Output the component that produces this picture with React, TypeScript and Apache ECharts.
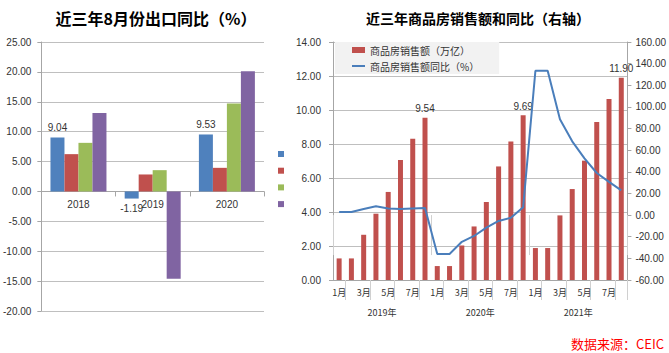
import React, { useEffect, useRef } from 'react';
import * as echarts from 'echarts';

// ---- Left chart: 近三年8月份出口同比（%）
const exportYears = ['2018', '2019', '2020'];
const exportSeriesNames = ['系列1', '系列2', '系列3', '系列4'];
const exportS1 = [9.04, -1.19, 9.53];
const exportS2 = [6.24, 2.84, 3.95];
const exportS3 = [8.13, 3.56, 14.7];
const exportS4 = [13.14, -14.6, 20.1];
const exportTicks = { min: -20, max: 25, interval: 5 };

// ---- Right chart: 近三年商品房销售额和同比（右轴）
const months = ['1月', '2月', '3月', '4月', '5月', '6月', '7月', '8月'];
const salesYears = ['2019年', '2020年', '2021年'];
const sales2019 = [1.27, 1.27, 2.66, 3.9, 5.18, 7.06, 8.31, 9.54];
const sales2020 = [0.82, 0.82, 2.03, 3.15, 4.59, 6.68, 8.15, 9.69];
const sales2021 = [1.88, 1.88, 3.8, 5.35, 7.02, 9.29, 10.65, 11.9];
const yoy2019 = [2.8, 2.8, 5.6, 8.1, 6.1, 5.6, 6.2, 6.5];
const yoy2020 = [-35.9, -35.9, -24.7, -19.3, -11.6, -5.4, -2.5, 7.2];
const yoy2021 = [133.4, 133.4, 88.5, 68.2, 52.4, 38.9, 30.7, 22.8];
const salesNames = ['商品房销售额（万亿）', '商品房销售额同比（%）'];

const FONT = '"Liberation Sans", "Noto Sans CJK SC", sans-serif';
const CJK = '"Noto Sans CJK SC", sans-serif';
const GRID_C = '#bfbfbf';
const AXIS_C = '#a6a6a6';
const TEXT_C = '#333333';

const LEFT_GRID_H = 269;

export default function App() {
  const ref = useRef<HTMLDivElement>(null);
  useEffect(() => {
    if (!ref.current) return;
    const chart = echarts.init(ref.current, undefined, { renderer: 'svg' });
    const monthCats = salesYears.flatMap(() => months);
    const salesAll = [...sales2019, ...sales2020, ...sales2021];
    const yoyAll = [...yoy2019, ...yoy2020, ...yoy2021];
    const fmt2 = (v: number) => Number(v).toFixed(2);
    const exportColors = ['#4f81bd', '#c0504d', '#9bbb59', '#8064a2'];
    const exportData = [exportS1, exportS2, exportS3, exportS4];
    // move the category axis up to the zero line of the value axis
    const zeroOffset =
      -LEFT_GRID_H * (0 - exportTicks.min) / (exportTicks.max - exportTicks.min);

    const option: any = {
      animation: false,
      textStyle: { fontFamily: FONT },
      grid: [
        { left: 38, top: 42, width: 226, height: LEFT_GRID_H },
        { left: 333, top: 42, width: 297, height: 238 },
      ],
      xAxis: [
        {
          gridIndex: 0,
          type: 'category',
          data: exportYears,
          position: 'bottom',
          offset: zeroOffset,
          axisLine: { onZero: false, lineStyle: { color: AXIS_C } },
          axisTick: { show: true, length: 5, lineStyle: { color: AXIS_C } },
          axisLabel: { color: TEXT_C, fontSize: 10, margin: 8 },
          splitLine: { show: false },
        },
        {
          gridIndex: 1,
          type: 'category',
          data: monthCats,
          position: 'bottom',
          axisLine: { lineStyle: { color: AXIS_C } },
          axisTick: {
            show: true,
            length: 20,
            interval: (i: number) => i % 2 === 1,
            lineStyle: { color: '#d0d0d0' },
          },
          axisLabel: { color: TEXT_C, fontSize: 9, margin: 8, interval: 1, fontFamily: CJK },
          splitLine: { show: false },
        },
        {
          gridIndex: 1,
          type: 'category',
          data: salesYears,
          position: 'bottom',
          axisLine: { show: false },
          axisTick: { show: true, length: 40, lineStyle: { color: '#d0d0d0' } },
          axisLabel: { color: TEXT_C, fontSize: 9, margin: 28, fontFamily: CJK },
          splitLine: { show: false },
        },
      ],
      yAxis: [
        {
          gridIndex: 0,
          type: 'value',
          min: exportTicks.min,
          max: exportTicks.max,
          interval: exportTicks.interval,
          axisLine: { show: true, lineStyle: { color: AXIS_C } },
          axisTick: { show: true, length: 4, lineStyle: { color: AXIS_C } },
          axisLabel: { color: TEXT_C, fontSize: 10, margin: 10, formatter: fmt2 },
          splitLine: { lineStyle: { color: GRID_C } },
        },
        {
          gridIndex: 1,
          type: 'value',
          position: 'left',
          min: 0,
          max: 14,
          interval: 2,
          axisLine: { show: true, lineStyle: { color: AXIS_C } },
          axisTick: { show: true, length: 4, lineStyle: { color: AXIS_C } },
          axisLabel: { color: TEXT_C, fontSize: 10, margin: 12, formatter: fmt2 },
          splitLine: { lineStyle: { color: GRID_C } },
        },
        {
          gridIndex: 1,
          type: 'value',
          position: 'right',
          min: -60,
          max: 160,
          interval: 20,
          axisLine: { show: true, lineStyle: { color: AXIS_C } },
          axisTick: { show: true, length: 4, lineStyle: { color: AXIS_C } },
          axisLabel: { color: TEXT_C, fontSize: 10, margin: 8, formatter: fmt2 },
          splitLine: { show: false },
        },
      ],
      legend: [
        {
          data: exportSeriesNames,
          orient: 'vertical',
          left: 273,
          top: 146,
          itemWidth: 6,
          itemHeight: 6,
          itemGap: 10.7,
          icon: 'rect',
          formatter: () => '',
          textStyle: { fontSize: 6, lineHeight: 6 },
        },
        {
          data: [
            { name: salesNames[0], icon: 'rect' },
            { name: salesNames[1], icon: 'path://M0,0L13,0L13,2L0,2Z' },
          ],
          orient: 'vertical',
          left: 335,
          top: 42,
          backgroundColor: '#f2f2f2',
          padding: [3, 20, 3, 17],
          itemWidth: 13,
          itemHeight: 6,
          itemGap: 6,
          textStyle: { fontSize: 10, color: TEXT_C, fontFamily: CJK },
        },
      ],
      series: [
        ...exportData.map((d, k) => ({
          name: exportSeriesNames[k],
          type: 'bar',
          xAxisIndex: 0,
          yAxisIndex: 0,
          barWidth: 14,
          barGap: '0%',
          itemStyle: { color: exportColors[k] },
          data: d.map((v) => ({
            value: v,
            label: {
              show: k === 0,
              position: v < 0 ? 'bottom' : 'top',
              distance: 5,
              formatter: (p: any) => fmt2(p.value),
              color: TEXT_C,
              fontSize: 10,
            },
          })),
        })),
        {
          name: salesNames[0],
          type: 'bar',
          xAxisIndex: 1,
          yAxisIndex: 1,
          barWidth: 5,
          itemStyle: { color: '#c0504d' },
          label: {
            show: true,
            position: 'top',
            distance: 4,
            color: TEXT_C,
            fontSize: 10,
            formatter: (p: any) => (p.dataIndex % 8 === 7 ? fmt2(p.value) : ''),
          },
          data: salesAll,
        },
        {
          name: salesNames[1],
          type: 'line',
          xAxisIndex: 1,
          yAxisIndex: 2,
          symbol: 'none',
          lineStyle: { color: '#4a7ebb', width: 2 },
          itemStyle: { color: '#4a7ebb' },
          data: yoyAll,
        },
      ],
      graphic: [
        {
          type: 'text',
          x: 156,
          y: 18,
          style: {
            text: '近三年8月份出口同比（%）',
            fontSize: 16,
            fontWeight: 'bold',
            fontFamily: CJK,
            fill: '#000',
            align: 'center',
            verticalAlign: 'middle',
          },
        },
        {
          type: 'text',
          x: 478,
          y: 18,
          style: {
            text: '近三年商品房销售额和同比（右轴）',
            fontSize: 14,
            fontWeight: 'bold',
            fontFamily: CJK,
            fill: '#000',
            align: 'center',
            verticalAlign: 'middle',
          },
        },
        {
          type: 'text',
          x: 664,
          y: 343,
          style: {
            text: '数据来源：CEIC',
            fontSize: 13,
            fontFamily: CJK,
            fill: '#ff0000',
            align: 'right',
            verticalAlign: 'middle',
          },
        },
      ],
    };
    chart.setOption(option);
    return () => chart.dispose();
  }, []);
  return (
    <div
      ref={ref}
      style={{ position: 'fixed', left: 0, top: 0, width: 669, height: 353, background: '#fff' }}
    />
  );
}
